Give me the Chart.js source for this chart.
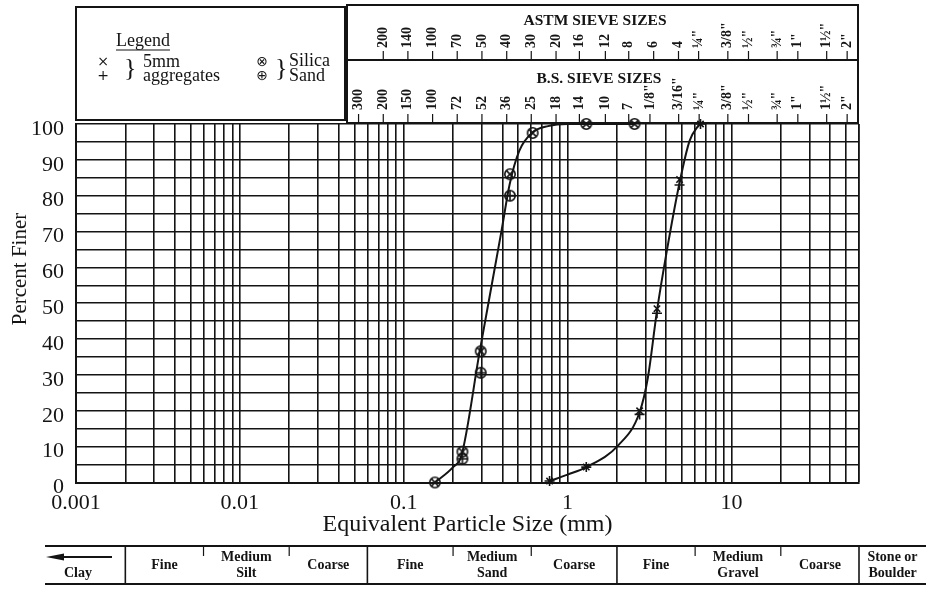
<!DOCTYPE html>
<html>
<head>
<meta charset="utf-8">
<title>Particle size distribution</title>
<script src="https://cdn.jsdelivr.net/npm/chart.js@4.4.1/dist/chart.umd.min.js"></script>
<style>
  html, body { margin: 0; padding: 0; background: #fff; }
  #wrap { position: relative; width: 926px; height: 589px; }
</style>
</head>
<body>
<div id="wrap"><canvas id="chart"></canvas></div>
<script>
// silica sand, curve traced through the plotted tests (size mm / % finer)
const sandCurveSize = [0.155, 0.2, 0.225, 0.29, 0.395, 0.443, 0.507, 0.61, 0.76, 1.0, 1.3, 2.56];
const sandCurvePct  = [0, 4.3, 7.5, 36.3, 70.2, 83.2, 92.5, 97.6, 99.4, 100, 100, 100];
const sandTestASize = [0.155, 0.228, 0.295, 0.445, 0.612, 1.3, 2.56];
const sandTestAPct  = [0, 8.6, 36.6, 86, 97.5, 100, 100];
const sandTestBSize = [0.228, 0.295, 0.445];
const sandTestBPct  = [6.6, 30.6, 80];

// 5mm aggregates
const aggCurveSize = [0.776, 1.0, 1.3, 2.03, 2.75, 3.09, 3.51, 4.0, 4.82, 5.55, 6.38];
const aggCurvePct  = [0.4, 2.2, 4.3, 10.3, 19.6, 29.3, 47.9, 63.7, 83.6, 95.3, 100];
const aggTestXSize = [0.776, 1.3, 2.75, 3.51, 4.82, 6.47];
const aggTestXPct  = [0.4, 4.3, 20, 48.5, 84.5, 100];
const aggTestPSize = [0.776, 1.3, 2.75, 3.51, 4.82, 6.47];
const aggTestPPct  = [0.4, 4.3, 19, 47.2, 83, 100];

// axis labels
const xLabelValues = [0.001, 0.01, 0.1, 1, 10];
const xLabelTexts  = ['0.001', '0.01', '0.1', '1', '10'];

// sieve scales along the top
const astmLabels = ['200', '140', '100', '70', '50', '40', '30', '20', '16', '12', '8', '6', '4', '¼"', '3/8"', '½"', '¾"', '1"', '1½"', '2"'];
const astmSizes  = [0.075, 0.106, 0.15, 0.212, 0.3, 0.425, 0.6, 0.85, 1.18, 1.7, 2.36, 3.35, 4.75, 6.3, 9.5, 12.7, 19, 25.4, 38.1, 50.8];
const bsLabels = ['300', '200', '150', '100', '72', '52', '36', '25', '18', '14', '10', '7', '1/8"', '3/16"', '¼"', '3/8"', '½"', '¾"', '1"', '1½"', '2"'];
const bsSizes  = [0.053, 0.075, 0.106, 0.15, 0.212, 0.3, 0.425, 0.6, 0.85, 1.18, 1.7, 2.36, 3.18, 4.76, 6.35, 9.5, 12.7, 19, 25.4, 38.1, 50.8];

// soil classification band under the axis
const bandBounds = [0.002, 0.006, 0.02, 0.06, 0.2, 0.6, 2, 6, 20, 60];
const bandMajor  = [0.002, 0.06, 2, 60];
const bandLabels = [['Clay'], ['Fine'], ['Medium', 'Silt'], ['Coarse'], ['Fine'], ['Medium', 'Sand'], ['Coarse'],
                    ['Fine'], ['Medium', 'Gravel'], ['Coarse'], ['Stone or', 'Boulder']];

const INK = '#141414';
const SERIF = '"Liberation Serif", "Times New Roman", serif';
const SYMBOL = '"DejaVu Sans", sans-serif';

const pts = (xs, ys) => xs.map((v, i) => ({ x: v, y: ys[i] }));

// grid lines at 1..9 of every decade up to 60 mm
const gridX = [];
for (let e = -3; e <= 1; e++) {
  for (let m = 1; m <= 9; m++) {
    const v = m * Math.pow(10, e);
    if (v <= 60.0001) gridX.push(+v.toPrecision(6));
  }
}
gridX.push(60);

function ringMark(kind) {
  const c = document.createElement('canvas');
  c.width = 14; c.height = 14;
  const g = c.getContext('2d');
  g.strokeStyle = INK;
  g.lineWidth = 1.6;
  g.beginPath();
  g.arc(7, 7, 5.2, 0, Math.PI * 2);
  g.stroke();
  g.beginPath();
  if (kind === 'x') {
    g.moveTo(3.4, 3.4); g.lineTo(10.6, 10.6);
    g.moveTo(10.6, 3.4); g.lineTo(3.4, 10.6);
  } else {
    g.moveTo(7, 1.8); g.lineTo(7, 12.2);
    g.moveTo(1.8, 7); g.lineTo(12.2, 7);
  }
  g.stroke();
  return c;
}

const overlay = {
  id: 'overlay',
  beforeDatasetsDraw(chart) {
    const ctx = chart.ctx;
    const sx = chart.scales.x;
    const area = chart.chartArea;
    ctx.save();
    ctx.strokeStyle = INK;
    ctx.fillStyle = INK;

    // legend box
    ctx.lineWidth = 2;
    ctx.strokeRect(76, 7, 269, 113);
    ctx.textBaseline = 'middle';
    ctx.textAlign = 'left';
    ctx.font = '18px ' + SERIF;
    ctx.fillText('Legend', 116, 41);
    const lw = ctx.measureText('Legend').width;
    ctx.lineWidth = 1.2;
    ctx.beginPath(); ctx.moveTo(116, 50); ctx.lineTo(116 + lw, 50); ctx.stroke();
    ctx.fillText('5mm', 143, 62);
    ctx.fillText('aggregates', 143, 76);
    ctx.fillText('Silica', 289, 61);
    ctx.fillText('Sand', 289, 76);
    ctx.font = '26px ' + SERIF;
    ctx.fillText('}', 124, 69);
    ctx.fillText('}', 275, 69);
    ctx.font = '14px ' + SYMBOL;
    ctx.textAlign = 'center';
    ctx.fillText('×', 103, 62);
    ctx.fillText('+', 103, 76);
    ctx.fillText('⊗', 262, 62);
    ctx.fillText('⊕', 262, 76);

    // sieve boxes
    ctx.lineWidth = 2;
    ctx.strokeRect(347, 5, 511, 118);
    ctx.beginPath(); ctx.moveTo(347, 60); ctx.lineTo(858, 60); ctx.stroke();
    ctx.font = 'bold 15.5px ' + SERIF;
    ctx.fillText('ASTM SIEVE SIZES', 595, 21);
    ctx.fillText('B.S. SIEVE SIZES', 599, 79);

    const sieveRow = (labels, sizes, textBottom, tickTop, tickBottom) => {
      ctx.lineWidth = 1.2;
      ctx.font = 'bold 14px ' + SERIF;
      sizes.forEach((s, i) => {
        const px = sx.getPixelForValue(s);
        ctx.beginPath(); ctx.moveTo(px, tickTop); ctx.lineTo(px, tickBottom); ctx.stroke();
        ctx.save();
        ctx.translate(px, textBottom);
        ctx.rotate(-Math.PI / 2);
        ctx.textAlign = 'left';
        ctx.textBaseline = 'middle';
        ctx.fillText(labels[i], 0, 0);
        ctx.restore();
      });
    };
    sieveRow(astmLabels, astmSizes, 48, 51, 60);
    sieveRow(bsLabels, bsSizes, 110, 114, 123);

    // y axis title
    ctx.save();
    ctx.font = '21px ' + SERIF;
    ctx.translate(20, 269);
    ctx.rotate(-Math.PI / 2);
    ctx.textAlign = 'center';
    ctx.textBaseline = 'middle';
    ctx.fillText('Percent Finer', 0, 0);
    ctx.restore();

    // classification band
    const top = 546, bot = 584, left = 45, right = 926;
    ctx.lineWidth = 2;
    ctx.beginPath();
    ctx.moveTo(left, top); ctx.lineTo(right, top);
    ctx.moveTo(left, bot); ctx.lineTo(right, bot);
    ctx.stroke();
    const edges = [left];
    bandBounds.forEach(b => {
      const px = b >= 60 ? area.right : sx.getPixelForValue(b);
      edges.push(px);
      ctx.lineWidth = bandMajor.includes(b) ? 1.6 : 1.2;
      ctx.beginPath();
      ctx.moveTo(px, top);
      ctx.lineTo(px, bandMajor.includes(b) ? bot : top + 10);
      ctx.stroke();
    });
    edges.push(right);
    ctx.font = 'bold 14px ' + SERIF;
    ctx.textAlign = 'center';
    ctx.textBaseline = 'middle';
    bandLabels.forEach((lines, i) => {
      let cx = (edges[i] + edges[i + 1]) / 2;
      if (i === 0) {
        cx = 78;
        // arrow pointing to finer sizes
        ctx.lineWidth = 2;
        ctx.beginPath(); ctx.moveTo(112, 557); ctx.lineTo(60, 557); ctx.stroke();
        ctx.beginPath();
        ctx.moveTo(46, 557); ctx.lineTo(64, 553.5); ctx.lineTo(64, 560.5); ctx.closePath();
        ctx.fill();
        ctx.fillText(lines[0], cx, 573);
        return;
      }
      if (lines.length === 1) {
        ctx.fillText(lines[0], cx, 565);
      } else {
        ctx.fillText(lines[0], cx, 557);
        ctx.fillText(lines[1], cx, 573);
      }
    });
    ctx.restore();
  }
};

new Chart(document.getElementById('chart'), {
  type: 'scatter',
  data: {
    datasets: [
      {
        label: 'Silica Sand',
        data: pts(sandCurveSize, sandCurvePct),
        showLine: true,
        borderColor: INK,
        borderWidth: 2,
        pointRadius: 0,
        cubicInterpolationMode: 'monotone'
      },
      {
        label: '5mm aggregates',
        data: pts(aggCurveSize, aggCurvePct),
        showLine: true,
        borderColor: INK,
        borderWidth: 2,
        pointRadius: 0,
        cubicInterpolationMode: 'monotone'
      },
      {
        label: 'Silica Sand ⊗',
        data: pts(sandTestASize, sandTestAPct),
        pointStyle: ringMark('x'),
        clip: false
      },
      {
        label: 'Silica Sand ⊕',
        data: pts(sandTestBSize, sandTestBPct),
        pointStyle: ringMark('+'),
        clip: false
      },
      {
        label: '5mm aggregates ×',
        data: pts(aggTestXSize, aggTestXPct),
        pointStyle: 'crossRot',
        pointRadius: 4.5,
        borderColor: INK,
        borderWidth: 1.6,
        clip: false
      },
      {
        label: '5mm aggregates +',
        data: pts(aggTestPSize, aggTestPPct),
        pointStyle: 'cross',
        pointRadius: 5,
        borderColor: INK,
        borderWidth: 1.6,
        clip: false
      }
    ]
  },
  options: {
    responsive: true,
    maintainAspectRatio: false,
    animation: false,
    events: [],
    layout: { padding: { top: 124, right: 67, bottom: 50, left: 0 } },
    plugins: {
      legend: { display: false },
      tooltip: { enabled: false }
    },
    scales: {
      x: {
        type: 'logarithmic',
        min: 0.001,
        max: 60,
        afterBuildTicks: scale => { scale.ticks = gridX.map(v => ({ value: v })); },
        afterFit: scale => { scale.height = 56.5; },
        ticks: {
          autoSkip: false,
          maxRotation: 0,
          padding: 8,
          color: INK,
          font: { family: SERIF, size: 22 },
          callback: value => {
            const i = xLabelValues.findIndex(v => Math.abs(Math.log10(v) - Math.log10(value)) < 1e-6);
            return i >= 0 ? xLabelTexts[i] : '';
          }
        },
        grid: { color: INK, lineWidth: 1.6, drawTicks: false },
        border: { color: INK, width: 2 },
        title: {
          display: true,
          text: 'Equivalent Particle Size (mm)',
          color: INK,
          font: { family: SERIF, size: 24 },
          padding: { top: 0, bottom: 0 }
        }
      },
      y: {
        min: 0,
        max: 100,
        afterFit: scale => { scale.width = 76; },
        ticks: {
          stepSize: 5,
          autoSkip: false,
          padding: 12,
          labelOffset: 5,
          color: INK,
          font: { family: SERIF, size: 22 },
          callback: value => (value % 10 === 0 ? value : '')
        },
        grid: { color: INK, lineWidth: 1.6, drawTicks: false },
        border: { color: INK, width: 2 }
      }
    }
  },
  plugins: [overlay]
});
</script>
</body>
</html>
